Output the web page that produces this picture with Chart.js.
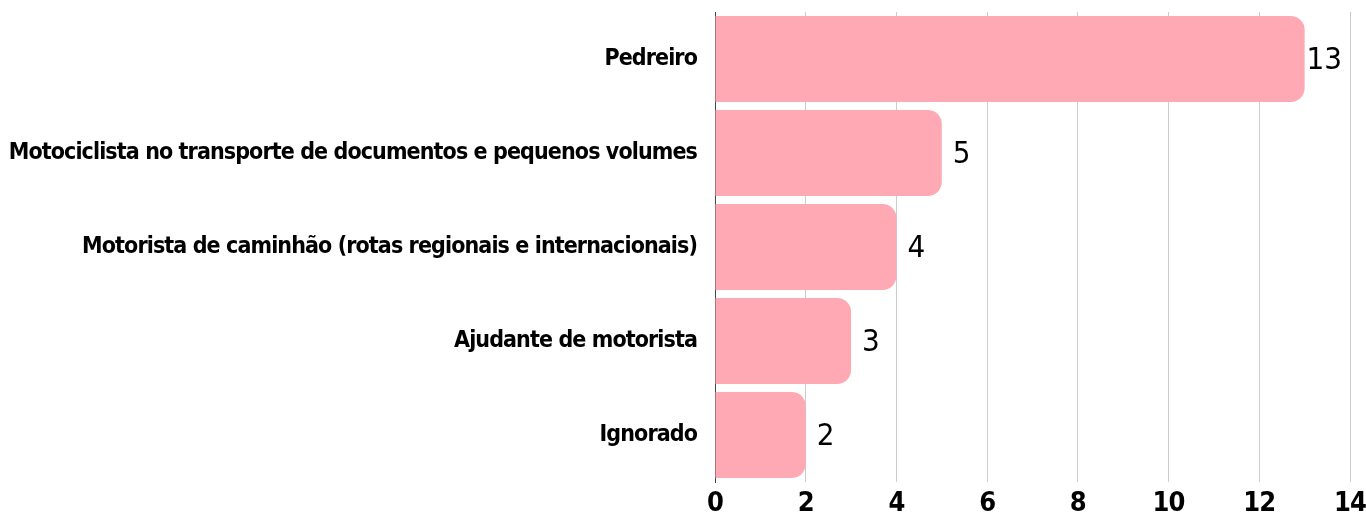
<!DOCTYPE html>
<html>
<head>
<meta charset="utf-8">
<script src="https://cdn.jsdelivr.net/npm/chart.js@4"></script>
<style>
    body { margin: 0; background: #fff; }
    #wrap { width: 1366px; height: 518px; }
</style>
</head>
<body>
<div id="wrap"><canvas id="occupationChart" width="1366" height="518"></canvas></div>
<script>
// Chart data
const categories = [
    'Pedreiro',
    'Motociclista no transporte de documentos e pequenos volumes',
    'Motorista de caminhão (rotas regionais e internacionais)',
    'Ajudante de motorista',
    'Ignorado'
];
const counts = [13, 5, 4, 3, 2];
const xTicks = [0, 2, 4, 6, 8, 10, 12, 14];

const LABEL_FONT = "'DejaVu Sans Condensed', 'DejaVu Sans', sans-serif";

// Tighten the axis text a bit so it looks like the narrow font of the original
const tightAxisText = {
    id: 'tightAxisText',
    beforeDraw(chart) {
        chart.ctx.letterSpacing = '-0.9px';
    },
    beforeDatasetsDraw(chart) {
        chart.ctx.letterSpacing = '0px';
    }
};

// Draw the value next to the end of each bar (kept inside the plot area)
const valueLabels = {
    id: 'valueLabels',
    afterDatasetsDraw(chart) {
        const ctx = chart.ctx;
        const meta = chart.getDatasetMeta(0);
        const right = chart.chartArea.right;
        ctx.save();
        ctx.font = '31px ' + LABEL_FONT;
        ctx.fillStyle = '#000';
        ctx.textBaseline = 'middle';
        ctx.textAlign = 'left';
        meta.data.forEach((bar, i) => {
            const text = String(counts[i]);
            const w = ctx.measureText(text).width;
            let x = bar.x + 11;
            if (x + w > right) {
                x = right - w - 8;
            }
            ctx.fillText(text, x, bar.y + 2);
        });
        ctx.restore();
    }
};

const ctx = document.getElementById('occupationChart').getContext('2d');
new Chart(ctx, {
    type: 'bar',
    data: {
        labels: categories,
        datasets: [{
            data: counts,
            backgroundColor: 'rgb(255, 169, 181)',
            borderRadius: 14,
            borderSkipped: 'start',
            barPercentage: 0.915,
            categoryPercentage: 1
        }]
    },
    options: {
        indexAxis: 'y',
        responsive: false,
        animation: false,
        layout: {
            padding: { left: 0, right: 16, top: 12, bottom: 0 }
        },
        plugins: {
            legend: { display: false },
            tooltip: { enabled: false }
        },
        scales: {
            x: {
                min: 0,
                max: 14,
                afterBuildTicks(scale) {
                    scale.ticks = xTicks.map(v => ({ value: v }));
                },
                afterFit(scale) {
                    scale.height = 36;
                    scale.paddingLeft = 0;
                    scale.paddingRight = 0;
                },
                grid: { color: '#cccccc', drawTicks: false },
                border: { display: false },
                ticks: {
                    padding: 6,
                    color: '#000',
                    font: { family: LABEL_FONT, size: 27, weight: 'bold' }
                }
            },
            y: {
                afterFit(scale) {
                    scale.width = 715;
                    scale.paddingTop = 0;
                    scale.paddingBottom = 0;
                },
                grid: { display: false, drawTicks: false },
                border: { display: true, color: '#444' },
                ticks: {
                    padding: 18,
                    color: '#000',
                    font: { family: LABEL_FONT, size: 23, weight: 'bold' }
                }
            }
        }
    },
    plugins: [tightAxisText, valueLabels]
});
</script>
</body>
</html>
